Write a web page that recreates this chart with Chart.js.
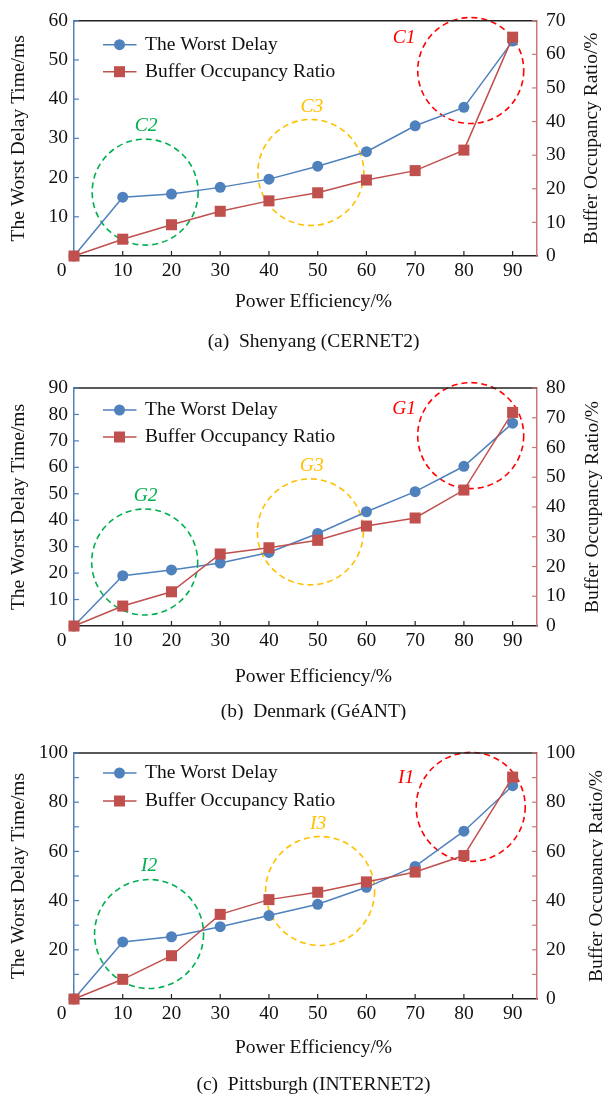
<!DOCTYPE html>
<html>
<head>
<meta charset="utf-8">
<script src="https://cdn.jsdelivr.net/npm/chart.js@4.4.1/dist/chart.umd.min.js"></script>
<style>
  body { margin: 0; background: #fff; }
  .panel { position: absolute; left: 0; width: 603px; }
</style>
</head>
<body>
<div class="panel" style="top:0px;height:360px"><canvas id="chartA" width="603" height="360"></canvas></div>
<div class="panel" style="top:360px;height:360px"><canvas id="chartB" width="603" height="360"></canvas></div>
<div class="panel" style="top:720px;height:377px"><canvas id="chartC" width="603" height="377"></canvas></div>
<script>
// power efficiency (%) on the x axis
const efficiency = [0, 10, 20, 30, 40, 50, 60, 70, 80, 90];
const xTicks = [10, 20, 30, 40, 50, 60, 70, 80, 90];

// (a) Shenyang (CERNET2)
const shenyangDelay  = [0, 15.0, 15.8, 17.5, 19.6, 22.9, 26.6, 33.2, 37.9, 54.8];
const shenyangBuffer = [0, 5.0, 9.3, 13.3, 16.4, 18.8, 22.6, 25.4, 31.5, 65.1];
const shenyangLeftTicks  = [10, 20, 30, 40, 50, 60];
const shenyangRightTicks = [0, 10, 20, 30, 40, 50, 60, 70];

// (b) Denmark (GéANT)
const denmarkDelay  = [0, 19.0, 21.2, 23.8, 27.8, 35.0, 43.2, 50.8, 60.4, 76.7];
const denmarkBuffer = [0, 6.7, 11.5, 24.2, 26.3, 28.8, 33.6, 36.3, 45.7, 71.8];
const denmarkLeftTicks  = [10, 20, 30, 40, 50, 60, 70, 80, 90];
const denmarkRightTicks = [0, 10, 20, 30, 40, 50, 60, 70, 80];

// (c) Pittsburgh (INTERNET2)
const pittsburghDelay  = [0, 23.2, 25.3, 29.4, 33.9, 38.5, 45.4, 53.9, 68.2, 86.7];
const pittsburghBuffer = [0, 8.0, 17.6, 34.4, 40.4, 43.4, 47.6, 51.6, 58.3, 90.2];
const pittsburghLeftTicks  = [20, 40, 60, 80, 100];
const pittsburghRightTicks = [0, 20, 40, 60, 80, 100];

const FONT = "'Liberation Serif', 'Times New Roman', serif";
const FS = 19.5;
const BLUE = '#4f81bd';
const RED = '#c0504d';
const RED_AXIS = '#cc7a78';
const INK = '#111';

function drawMarker(ctx, style, color, x, y) {
  ctx.fillStyle = color;
  if (style === 'rect') {
    ctx.fillRect(x - 5.5, y - 5.5, 11, 11);
  } else {
    ctx.beginPath();
    ctx.arc(x, y, 5.5, 0, Math.PI * 2);
    ctx.fill();
  }
}

function makeDecor(p) {
  return {
    id: 'decor',
    beforeDatasetsDraw(chart) {
      const ctx = chart.ctx, xs = chart.scales.x, ys = chart.scales.y;
      ctx.save();
      p.circles.forEach(c => {
        const cx = xs.getPixelForValue(c.x), cy = ys.getPixelForValue(c.y);
        ctx.strokeStyle = c.color;
        ctx.lineWidth = 1.6;
        ctx.setLineDash([6, 4]);
        ctx.beginPath();
        ctx.ellipse(cx, cy, c.r, c.r, 0, 0, Math.PI * 2);
        ctx.stroke();
        ctx.setLineDash([]);
        ctx.fillStyle = c.color;
        ctx.font = 'italic ' + FS + 'px ' + FONT;
        ctx.textAlign = 'center';
        ctx.textBaseline = 'middle';
        ctx.fillText(c.label, cx + c.dx, cy + c.dy);
      });
      ctx.restore();
    },
    afterDraw(chart) {
      const ctx = chart.ctx, a = chart.chartArea;
      const xs = chart.scales.x, yl = chart.scales.y, yr = chart.scales.y1;
      ctx.save();
      // top frame line
      ctx.strokeStyle = '#222';
      ctx.lineWidth = 1.5;
      ctx.beginPath();
      ctx.moveTo(a.left, a.top);
      ctx.lineTo(a.right, a.top);
      ctx.stroke();

      // inward tick marks
      ctx.lineWidth = 1.2;
      ctx.strokeStyle = '#222';
      xs.ticks.forEach(t => {
        const px = xs.getPixelForValue(t.value);
        ctx.beginPath(); ctx.moveTo(px, a.bottom); ctx.lineTo(px, a.bottom - 5); ctx.stroke();
      });
      ctx.strokeStyle = BLUE;
      yl.ticks.forEach(t => {
        if (t.value === 0) return;
        const py = yl.getPixelForValue(t.value);
        ctx.beginPath(); ctx.moveTo(a.left, py); ctx.lineTo(a.left + 5, py); ctx.stroke();
      });
      ctx.strokeStyle = RED_AXIS;
      yr.ticks.forEach(t => {
        if (t.value === 0) return;
        const py = yr.getPixelForValue(t.value);
        ctx.beginPath(); ctx.moveTo(a.right, py); ctx.lineTo(a.right - 5, py); ctx.stroke();
      });

      // legend: line with marker
      const ds = chart.data.datasets;
      [ds[1], ds[0]].forEach((d, i) => {
        const y = a.top + p.legendRows[i];
        ctx.strokeStyle = d.borderColor;
        ctx.lineWidth = 1.5;
        ctx.beginPath(); ctx.moveTo(a.left + 29, y); ctx.lineTo(a.left + 62.5, y); ctx.stroke();
        drawMarker(ctx, d.pointStyle, d.borderColor, a.left + 45.5, y);
        ctx.fillStyle = INK;
        ctx.font = FS + 'px ' + FONT;
        ctx.textAlign = 'left';
        ctx.textBaseline = 'middle';
        ctx.fillText(d.label, a.left + 71, y);
      });

      // shared origin label, x title, caption
      const mid = (a.left + a.right) / 2 + 8;
      ctx.fillStyle = INK;
      ctx.font = FS + 'px ' + FONT;
      ctx.textAlign = 'center';
      ctx.textBaseline = 'middle';
      ctx.fillText(String(efficiency[0]), a.left - 12.3, a.bottom + 3 + FS * 0.6);
      ctx.fillText('Power Efficiency/%', mid, p.xTitleY);
      ctx.fillText(p.caption, mid, p.captionY);

      // right axis title reads bottom-to-top
      ctx.translate(p.rightTitleX, (a.top + a.bottom) / 2);
      ctx.rotate(-Math.PI / 2);
      ctx.fillText('Buffer Occupancy Ratio/%', 0, 0);
      ctx.restore();
    }
  };
}

function renderPanel(id, p) {
  const canvas = document.getElementById(id);
  const ctx = canvas.getContext('2d');
  const tickFont = { family: FONT, size: FS };

  return new Chart(ctx, {
    type: 'line',
    data: {
      datasets: [
        {
          label: 'Buffer Occupancy Ratio',
          data: efficiency.map((x, i) => ({ x: x, y: p.buffer[i] })),
          yAxisID: 'y1',
          borderColor: RED,
          backgroundColor: RED,
          borderWidth: 1.5,
          pointStyle: 'rect',
          pointRadius: 7.8,
          pointBorderWidth: 0,
          tension: 0,
          clip: false,
          order: 0
        },
        {
          label: 'The Worst Delay',
          data: efficiency.map((x, i) => ({ x: x, y: p.delay[i] })),
          yAxisID: 'y',
          borderColor: BLUE,
          backgroundColor: BLUE,
          borderWidth: 1.5,
          pointStyle: 'circle',
          pointRadius: 5.5,
          pointBorderWidth: 0,
          tension: 0,
          clip: false,
          order: 1
        }
      ]
    },
    options: {
      responsive: false,
      animation: false,
      layout: { padding: { top: p.top, left: 0, right: 0, bottom: 0 } },
      plugins: { legend: { display: false }, tooltip: { enabled: false } },
      scales: {
        x: {
          type: 'linear',
          min: 0,
          max: 95,
          afterBuildTicks: s => { s.ticks = xTicks.map(v => ({ value: v })); },
          afterFit: s => { s.height = p.xHeight; },
          ticks: { font: tickFont, color: INK, padding: 3, autoSkip: false, maxRotation: 0 },
          grid: { display: false, drawTicks: false },
          border: { color: '#222', width: 1.5 }
        },
        y: {
          position: 'left',
          min: 0,
          max: p.leftTicks[p.leftTicks.length - 1],
          afterFit: s => { s.width = 74; },
          ticks: {
            stepSize: 10,
            autoSkip: false,
            font: tickFont,
            color: INK,
            padding: 6,
            callback: v => p.leftTicks.includes(v) ? String(v) : ''
          },
          grid: { display: false, drawTicks: false },
          border: { color: BLUE, width: 1.5 },
          title: {
            display: true,
            text: 'The Worst Delay Time/ms',
            font: tickFont,
            color: INK,
            padding: { top: 7.3, bottom: 0 }
          }
        },
        y1: {
          position: 'right',
          min: 0,
          max: p.rightTicks[p.rightTicks.length - 1],
          afterFit: s => { s.width = 66; },
          ticks: {
            stepSize: 10,
            autoSkip: false,
            font: tickFont,
            color: INK,
            padding: 9,
            callback: v => p.rightTicks.includes(v) ? String(v) : ''
          },
          grid: { display: false, drawTicks: false },
          border: { color: RED_AXIS, width: 1.5 }
        }
      }
    },
    plugins: [makeDecor(p)]
  });
}

renderPanel('chartA', {
  delay: shenyangDelay, buffer: shenyangBuffer,
  leftTicks: shenyangLeftTicks, rightTicks: shenyangRightTicks,
  top: 17, xHeight: 104, legendRows: [24, 51],
  xTitleY: 302, captionY: 341.7, rightTitleX: 592,
  caption: '(a)  Shenyang (CERNET2)',
  circles: [
    { label: 'C2', color: '#00b050', x: 14.6, y: 16.3, r: 53, dx: 1, dy: -66 },
    { label: 'C3', color: '#ffc000', x: 48.6, y: 21.3, r: 53, dx: 1, dy: -66 },
    { label: 'C1', color: '#ff0000', x: 81.4, y: 47.3, r: 53, dx: -66.6, dy: -32.7 }
  ]
});

renderPanel('chartB', {
  delay: denmarkDelay, buffer: denmarkBuffer,
  leftTicks: denmarkLeftTicks, rightTicks: denmarkRightTicks,
  top: 28, xHeight: 94, legendRows: [22, 49],
  xTitleY: 316.7, captionY: 351.7, rightTitleX: 593,
  caption: '(b)  Denmark (GéANT)',
  circles: [
    { label: 'G2', color: '#00b050', x: 14.5, y: 24.2, r: 53, dx: 1, dy: -66 },
    { label: 'G3', color: '#ffc000', x: 48.5, y: 35.6, r: 53, dx: 1.4, dy: -66 },
    { label: 'G1', color: '#ff0000', x: 81.4, y: 72.0, r: 53, dx: -66.6, dy: -27 }
  ]
});

renderPanel('chartC', {
  delay: pittsburghDelay, buffer: pittsburghBuffer,
  leftTicks: pittsburghLeftTicks, rightTicks: pittsburghRightTicks,
  top: 33, xHeight: 98, legendRows: [20, 48],
  xTitleY: 328, captionY: 365, rightTitleX: 597,
  caption: '(c)  Pittsburgh (INTERNET2)',
  circles: [
    { label: 'I2', color: '#00b050', x: 15.4, y: 26.4, r: 54.5, dx: 0, dy: -68 },
    { label: 'I3', color: '#ffc000', x: 50.5, y: 43.9, r: 54.5, dx: -2, dy: -67 },
    { label: 'I1', color: '#ff0000', x: 81.4, y: 78.1, r: 54.5, dx: -64.6, dy: -28.7 }
  ]
});
</script>
</body>
</html>
